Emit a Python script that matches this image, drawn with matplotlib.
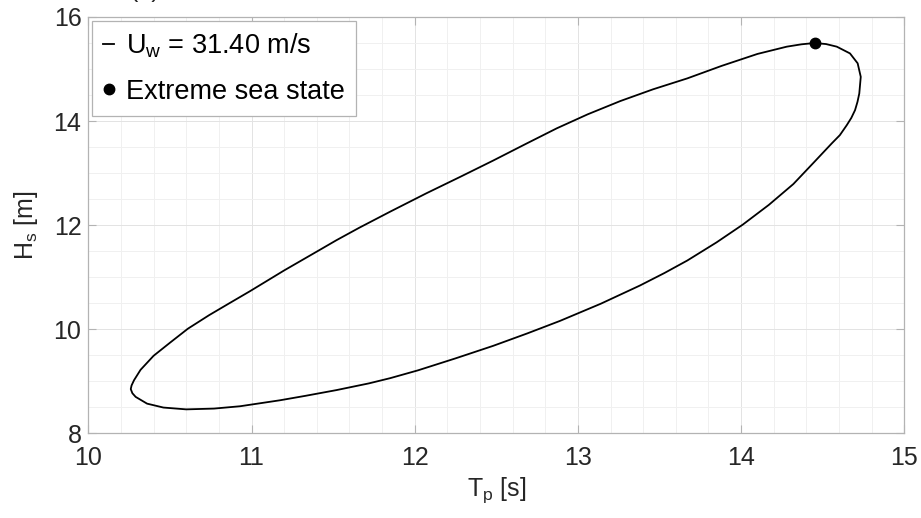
import numpy as np
import matplotlib
matplotlib.use("Agg")
import matplotlib.pyplot as plt
from matplotlib.ticker import MultipleLocator

plt.rcParams['font.family'] = ['Liberation Sans', 'DejaVu Sans']

# --- contour points (Tp [s], Hs [m]) ---
# upper branch, right to left, from the extreme point
tp_upper = [14.45, 14.37, 14.28, 14.10, 13.88, 13.67, 13.46, 13.26, 13.06, 12.87, 12.68,
            12.48, 12.28, 12.07, 11.85, 11.66, 11.52, 11.41, 11.20, 10.99, 10.87,
            10.74, 10.61, 10.50, 10.40, 10.32, 10.28, 10.265]
hs_upper = [15.50, 15.475, 15.43, 15.29, 15.06, 14.82, 14.61, 14.385, 14.13, 13.86, 13.56,
            13.24, 12.93, 12.61, 12.26, 11.95, 11.71, 11.51, 11.13, 10.73, 10.51,
            10.27, 10.01, 9.74, 9.49, 9.22, 9.02, 8.92]
# lower branch, left to right, back up the right side to the top
tp_lower = [10.26, 10.27, 10.29, 10.36, 10.46, 10.60, 10.77, 10.93, 11.175, 11.33,
            11.52, 11.72, 11.85, 12.02, 12.25, 12.48, 12.69, 12.89, 13.14, 13.38,
            13.53, 13.67, 13.85, 14.01, 14.17, 14.32, 14.45, 14.555, 14.605, 14.647,
            14.675, 14.698, 14.713, 14.724, 14.733, 14.714, 14.667, 14.586, 14.52, 14.45]
hs_lower = [8.85, 8.77, 8.70, 8.57, 8.495, 8.46, 8.475, 8.52, 8.635, 8.72,
            8.83, 8.96, 9.06, 9.21, 9.44, 9.68, 9.92, 10.16, 10.49, 10.84,
            11.08, 11.32, 11.67, 12.01, 12.39, 12.79, 13.22, 13.57, 13.73, 13.92,
            14.06, 14.21, 14.37, 14.53, 14.85, 15.11, 15.30, 15.43, 15.48, 15.50]

extreme_tp = [14.45]
extreme_hs = [15.50]

wind_label = r'$\mathregular{U_w}$ = 31.40 m/s'
point_label = 'Extreme sea state'

txt = '#262626'
spine = '#b3b3b3'

fig = plt.figure(figsize=(9.21, 5.18), dpi=100)
ax = fig.add_axes([0.0959, 0.1635, 0.886, 0.8037])

tp = tp_upper + tp_lower
hs = hs_upper + hs_lower
ax.plot(tp, hs, color='black', lw=1.3, label=wind_label, zorder=3,
        solid_joinstyle='round')
ax.plot(extreme_tp, extreme_hs, 'o', color='black', ms=7.5, label=point_label, zorder=4)

ax.set_xlim(10, 15)
ax.set_ylim(8, 16)
ax.xaxis.set_major_locator(MultipleLocator(1))
ax.xaxis.set_minor_locator(MultipleLocator(0.2))
ax.yaxis.set_major_locator(MultipleLocator(2))
ax.yaxis.set_minor_locator(MultipleLocator(0.5))

ax.grid(which='major', color='#e3e3e3', lw=0.7)
ax.grid(which='minor', color='#f0f0f0', lw=0.7)
ax.set_axisbelow(True)

for s in ax.spines.values():
    s.set_color(spine)
    s.set_linewidth(0.9)

ax.tick_params(which='major', direction='in', length=6, width=0.8, color=spine,
               top=True, right=True, labelsize=18, labelcolor=txt)
ax.tick_params(which='minor', length=0, top=True, right=True)
ax.tick_params(axis='x', which='major', pad=9)
ax.tick_params(axis='y', which='major', pad=5)

ax.set_xlabel(r'$\mathregular{T_p}$ [s]', fontsize=18, color=txt, labelpad=4)
ax.set_ylabel(r'$\mathregular{H_s}$ [m]', fontsize=18, color=txt, labelpad=10)

leg = ax.legend(loc='upper left', fontsize=19.5, handlelength=0.4, handletextpad=0.45,
                borderaxespad=0.15, borderpad=0.4, labelspacing=0.68,
                fancybox=False, framealpha=1, edgecolor=spine)
leg.get_frame().set_linewidth(0.9)
for t in leg.get_texts():
    t.set_color('black')

# panel tag, mostly cut off at the top edge like the source
fig.text(145 / 921, 1 + 3 / 518, '(a)', fontsize=18, color=txt, ha='center', va='baseline')

fig.savefig('out.png', dpi=100)
